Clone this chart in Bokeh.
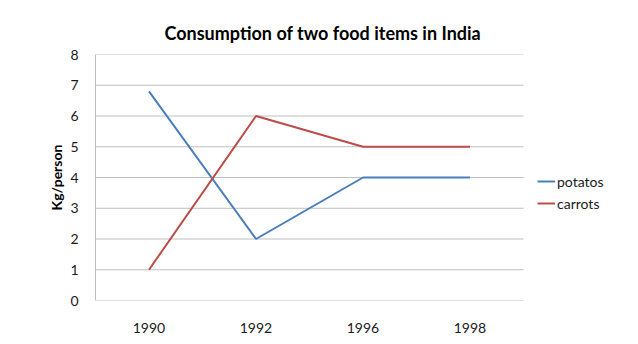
from bokeh.plotting import figure
from bokeh.models import Legend, LegendItem, Range1d, FixedTicker, Title
from bokeh.embed import file_html
from bokeh.resources import INLINE

years = ["1990", "1992", "1996", "1998"]
potatos = [6.8, 2, 4, 4]
carrots = [1, 6, 5, 5]
y_ticks = [0, 1, 2, 3, 4, 5, 6, 7, 8]

# category centres on a numeric axis (one slot per year, plus one spare slot for the legend)
xs = [i + 0.5 for i in range(len(years))]

FONT = "Lato"
p = figure(x_range=Range1d(0, len(years) + 1), y_range=Range1d(0, 8),
           width=638, height=344, output_backend="svg", toolbar_location=None,
           min_border_left=95, min_border_right=8,
           min_border_top=54, min_border_bottom=44)
p.outline_line_color = None
p.background_fill_color = "white"
p.border_fill_color = "white"

p.title = Title(text="Consumption of two food items in India", align="left",
                text_font=FONT, text_font_size="18px", text_font_style="bold",
                text_color="#000000", offset=69, standoff=22)

# horizontal gridlines limited to the category area
p.segment(x0=0, x1=len(years), y0=y_ticks, y1=y_ticks,
          line_color="#BFBFBF", line_width=1)

r1 = p.line(xs, potatos, line_color="#4A7EBB", line_width=2)
r2 = p.line(xs, carrots, line_color="#BE4B48", line_width=2)

p.xgrid.grid_line_color = None
p.ygrid.grid_line_color = None
p.yaxis.ticker = FixedTicker(ticks=y_ticks)
p.xaxis.ticker = FixedTicker(ticks=xs)
p.xaxis.major_label_overrides = {x: y for x, y in zip(xs, years)}

for ax in (p.xaxis[0], p.yaxis[0]):
    ax.major_tick_line_color = None
    ax.minor_tick_line_color = None
    ax.major_label_text_font = FONT
    ax.major_label_text_font_size = "14px"
    ax.major_label_text_color = "#1a1a1a"
p.yaxis.axis_line_color = "#BFBFBF"
p.xaxis.axis_line_color = None

p.xaxis.major_label_standoff = 16
p.yaxis.major_label_standoff = 11
p.yaxis.axis_label = "Kg/person"
p.yaxis.axis_label_text_font = FONT
p.yaxis.axis_label_text_font_size = "14px"
p.yaxis.axis_label_text_font_style = "bold"
p.yaxis.axis_label_text_color = "#000000"
p.yaxis.axis_label_standoff = 2

legend = Legend(items=[LegendItem(label="potatos", renderers=[r1]),
                       LegendItem(label="carrots", renderers=[r2])],
                location=(442, 87), border_line_color=None,
                background_fill_alpha=0, label_text_font=FONT,
                label_text_font_size="14px", label_text_color="#1a1a1a",
                glyph_width=18, label_standoff=2, spacing=2, padding=0)
p.add_layout(legend, "center")

open("out.html", "w").write(file_html(p, INLINE))
